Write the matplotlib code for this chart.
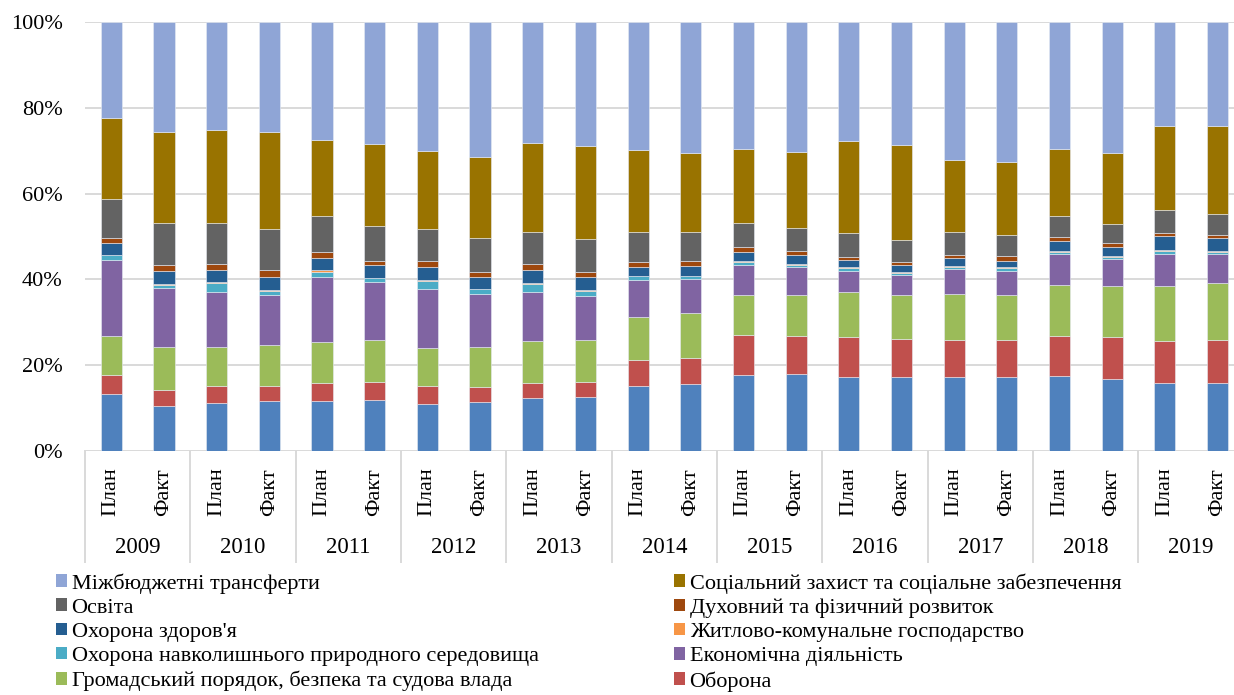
import numpy as np
import matplotlib
matplotlib.use('Agg')
import matplotlib.pyplot as plt
from matplotlib.patches import Patch
from matplotlib.ticker import PercentFormatter
from matplotlib.transforms import blended_transform_factory

plt.rcParams['font.family'] = ['Liberation Serif', 'DejaVu Serif']

years = [str(y) for y in range(2009, 2020)]
kinds = ['План', 'Факт']

# shares of expenditures, %, one value per bar (План/Факт for each year)
general = [13.4, 10.4, 11.1, 11.6, 11.7, 12.0, 11.0, 11.3, 12.3, 12.6, 15.2,
           15.5, 17.8, 18.0, 17.3, 17.3, 17.1, 17.2, 17.5, 16.7, 15.9, 15.8]
defence = [4.4, 3.9, 4.1, 3.6, 4.1, 4.1, 4.1, 3.7, 3.6, 3.6, 6.1,
           6.2, 9.2, 8.9, 9.3, 8.7, 8.8, 8.7, 9.4, 9.8, 9.7, 10.0]
public_order = [9.0, 10.0, 9.1, 9.5, 9.5, 9.8, 8.8, 9.2, 9.8, 9.7, 10.0,
                10.5, 9.3, 9.5, 10.4, 10.4, 10.7, 10.5, 11.9, 11.8, 12.9, 13.2]
economy = [17.8, 13.7, 12.8, 11.7, 15.2, 13.4, 13.9, 12.3, 11.3, 10.3, 8.6,
           7.9, 7.1, 6.4, 5.0, 4.5, 5.7, 5.5, 7.2, 6.4, 7.4, 6.6]
environment = [1.1, 0.8, 2.0, 0.8, 1.3, 1.0, 1.9, 1.1, 1.9, 1.1, 0.8,
               0.6, 0.6, 0.6, 0.6, 0.6, 0.6, 0.6, 0.5, 0.5, 0.6, 0.5]
housing = [0.1, 0.2, 0.2, 0.4, 0.3, 0.1, 0.2, 0.2, 0.2, 0.2, 0.1,
           0.1, 0.2, 0.2, 0.2, 0.2, 0.2, 0.2, 0.2, 0.2, 0.2, 0.2]
health = [2.7, 2.9, 2.8, 2.9, 3.0, 2.9, 2.9, 2.6, 3.0, 3.1, 2.2,
          2.3, 2.1, 2.0, 1.8, 1.6, 1.8, 1.6, 2.2, 2.0, 3.2, 3.1]
culture = [1.2, 1.4, 1.6, 1.6, 1.2, 1.1, 1.4, 1.3, 1.3, 1.1, 1.1,
           1.2, 1.3, 1.1, 0.6, 0.7, 0.8, 1.0, 1.0, 1.0, 0.9, 0.8]
education = [9.1, 9.8, 9.4, 9.6, 8.4, 8.1, 7.6, 7.8, 7.6, 7.8, 7.0,
             6.6, 5.6, 5.2, 5.5, 5.1, 5.3, 4.9, 4.8, 4.5, 5.3, 4.7]
social = [18.9, 21.2, 21.8, 22.6, 17.9, 19.0, 18.1, 18.8, 20.6, 21.7, 19.0,
          18.6, 17.3, 17.9, 21.5, 22.1, 16.7, 17.0, 15.8, 16.5, 19.5, 20.4]
transfers = [22.4, 25.7, 25.1, 25.7, 27.4, 28.5, 30.1, 31.5, 28.2, 28.8, 29.9,
             30.4, 29.5, 30.2, 27.8, 28.6, 32.1, 32.6, 29.5, 30.4, 24.2, 24.2]

# bottom to top
series = [
    ('Загальнодержавні функції', general, '#4F81BD'),
    ('Оборона', defence, '#C0504D'),
    ('Громадський порядок, безпека та судова влада', public_order, '#9BBB59'),
    ('Економічна діяльність', economy, '#8064A2'),
    ('Охорона навколишнього природного середовища', environment, '#4BACC6'),
    ('Житлово-комунальне господарство', housing, '#F79646'),
    ("Охорона здоров'я", health, '#255E91'),
    ('Духовний та фізичний розвиток', culture, '#9E480E'),
    ('Освіта', education, '#636363'),
    ('Соціальний захист та соціальне забезпечення', social, '#997300'),
    ('Міжбюджетні трансферти', transfers, '#8FA5D6'),
]

data = np.array([s[1] for s in series], dtype=float)
data = data / data.sum(axis=0) * 100

W, H = 1234, 695
fig = plt.figure(figsize=(W / 100, H / 100), dpi=100)
ax = fig.add_axes([85 / W, 1 - 451 / H, (W - 85) / W, (451 - 22) / H])

x = np.arange(data.shape[1])
bottom = np.zeros(len(x))
for (name, _, color), vals in zip(series, data):
    ax.bar(x, vals, 0.4, bottom=bottom, color=color, edgecolor='#E8ECF4',
           linewidth=0.4, zorder=3)
    bottom += vals

ax.set_xlim(-0.5, -0.5 + (W - 85) / 52.67)
ax.set_ylim(0, 100)
ax.set_yticks(np.arange(0, 101, 20))
ax.yaxis.set_major_formatter(PercentFormatter(decimals=0))
ax.tick_params(axis='y', length=0, pad=16, labelsize=16)
ax.set_xticks([])
ax.grid(axis='y', color='#D9D9D9', linewidth=1.4, zorder=0)
for sp in ax.spines.values():
    sp.set_visible(False)

# two-level category axis
trans = blended_transform_factory(ax.transData, ax.transAxes)
for i in range(len(x)):
    ax.text(i, -0.095, kinds[i % 2], rotation=90, ha='center', va='center',
            fontsize=16, transform=trans)
for j, yr in enumerate(years):
    ax.text(2 * j + 0.5, -0.224, yr, ha='center', va='center', fontsize=16.5,
            transform=trans)
for b in np.arange(-0.5, len(x), 2):
    ax.plot([b, b], [0, -0.258], color='#D9D9D9', linewidth=1.4,
            transform=trans, clip_on=False)

# legend (two columns, as in the source)
def handles(idx):
    return [Patch(facecolor=series[k][2], label=series[k][0]) for k in idx]

leg_kw = dict(frameon=False, fontsize=16, handlelength=0.5, handleheight=0.5,
              handletextpad=0.2, labelspacing=0.22, borderpad=0,
              borderaxespad=0, loc='upper left')
fig.legend(handles=handles([10, 8, 6, 4, 2]),
           bbox_to_anchor=(56 / W, 1 - 573 / H), **leg_kw)
fig.legend(handles=handles([9, 7, 5, 3, 1]),
           bbox_to_anchor=(674 / W, 1 - 573 / H), **leg_kw)

fig.savefig('out.png', dpi=100)
